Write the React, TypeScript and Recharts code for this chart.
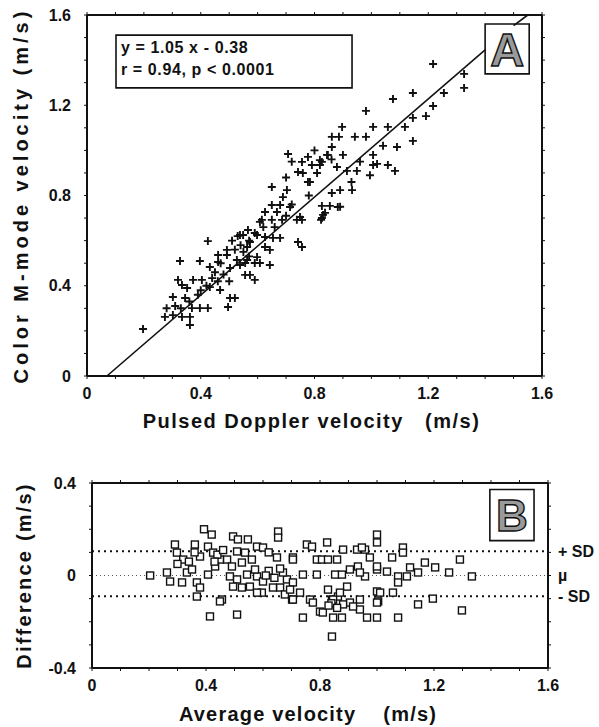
import React from 'react';
import {
  ScatterChart, Scatter, XAxis, YAxis, ReferenceLine, ReferenceArea, Label,
} from 'recharts';

// Panel A: pulsed Doppler (x) vs colour M-mode (y), m/s
const aX = [
  1.217, 1.326, 1.326, 1.255, 1.146, 1.076, 1.217, 0.981, 1.192, 1.146, 1.118, 1.006, 1.058, 0.897, 0.861, 0.886,
  0.942, 0.981, 1.146, 1.041, 1.09, 0.861, 0.844, 1.006, 1.058, 1.083, 1.006, 0.995, 0.949, 0.914, 0.879, 0.819,
  0.777, 0.791, 0.784, 0.861, 0.89, 0.932, 0.759, 0.819, 0.809, 0.826, 0.854, 0.89, 0.83, 0.823, 0.756, 0.756,
  0.707, 0.847, 0.756, 0.826, 0.742, 0.777, 0.65, 0.703, 0.689, 0.882, 0.65, 0.679, 0.714, 0.626, 0.668, 0.837,
  0.749, 0.826, 0.615, 0.65, 0.686, 0.738, 0.566, 0.59, 0.549, 0.626, 0.654, 0.679, 0.742, 0.563, 0.626, 0.643,
  0.563, 0.608, 0.643, 0.538, 0.425, 0.327, 0.397, 0.461, 0.461, 0.538, 0.492, 0.492, 0.32, 0.373, 0.404, 0.432,
  0.44, 0.352, 0.334, 0.302, 0.345, 0.369, 0.397, 0.425, 0.274, 0.302, 0.334, 0.362, 0.362, 0.197, 0.468, 0.503,
  0.496, 0.52, 0.556, 0.573, 0.59, 0.556, 0.59, 0.598, 0.598, 0.608, 0.573, 0.503, 0.527, 0.432, 0.48, 0.5,
  0.47, 0.52, 0.54, 0.51, 0.45, 0.42, 0.39, 0.36, 0.31, 0.28, 0.33, 0.4, 0.46, 0.55, 0.57, 0.62,
  0.66, 0.7, 0.72, 0.7, 0.72, 0.8, 0.86, 0.9, 0.96, 0.93, 1.02, 0.78, 0.57, 0.53,
];
const aY = [
  1.383, 1.339, 1.277, 1.254, 1.254, 1.228, 1.197, 1.175, 1.152, 1.144, 1.104, 1.104, 1.104, 1.104, 1.06, 1.06,
  1.06, 1.06, 1.042, 1.02, 1.015, 1.015, 0.98, 0.98, 0.935, 0.909, 0.935, 0.89, 0.909, 0.909, 0.926, 0.957,
  0.971, 0.935, 0.86, 0.811, 0.824, 0.824, 0.9, 0.935, 0.9, 0.754, 0.754, 0.75, 0.714, 0.692, 0.692, 0.572,
  0.984, 0.98, 0.949, 0.949, 0.904, 0.86, 0.838, 0.824, 0.793, 0.749, 0.758, 0.758, 0.749, 0.727, 0.727, 0.723,
  0.705, 0.7, 0.692, 0.692, 0.692, 0.692, 0.647, 0.634, 0.625, 0.616, 0.612, 0.612, 0.594, 0.572, 0.572, 0.559,
  0.514, 0.501, 0.492, 0.492, 0.598, 0.51, 0.51, 0.536, 0.505, 0.625, 0.559, 0.536, 0.426, 0.426, 0.426, 0.483,
  0.434, 0.39, 0.403, 0.35, 0.346, 0.301, 0.301, 0.301, 0.262, 0.27, 0.262, 0.262, 0.226, 0.208, 0.381, 0.346,
  0.306, 0.346, 0.448, 0.448, 0.426, 0.501, 0.501, 0.527, 0.625, 0.683, 0.594, 0.479, 0.514, 0.394, 0.45, 0.42,
  0.5, 0.56, 0.58, 0.6, 0.46, 0.4, 0.36, 0.33, 0.31, 0.3, 0.3, 0.38, 0.42, 0.55, 0.53, 0.66,
  0.66, 0.71, 0.76, 0.88, 0.95, 1.0, 0.96, 0.98, 0.95, 0.86, 0.94, 0.8, 0.6, 0.62,
];

// Panel B: average velocity (x) vs difference (y), m/s
const bX = [
  0.204, 0.263, 0.274, 0.291, 0.298, 0.32, 0.316, 0.333, 0.351, 0.368, 0.361, 0.379, 0.407, 0.425, 0.449, 0.432,
  0.407, 0.379, 0.368, 0.456, 0.393, 0.42, 0.495, 0.512, 0.547, 0.509, 0.537, 0.474, 0.491, 0.526, 0.561, 0.484,
  0.509, 0.544, 0.495, 0.526, 0.554, 0.579, 0.579, 0.414, 0.509, 0.449, 0.653, 0.653, 0.6, 0.649, 0.705, 0.596,
  0.66, 0.677, 0.702, 0.684, 0.705, 0.754, 0.772, 0.825, 0.705, 0.789, 0.807, 0.828, 0.86, 0.881, 0.93, 0.958,
  1.0, 0.74, 0.789, 0.853, 0.877, 0.905, 0.933, 0.895, 0.958, 1.0, 0.67, 0.6, 0.572, 0.579, 0.635, 0.695,
  0.705, 0.765, 0.828, 0.842, 0.863, 0.905, 0.94, 1.004, 1.0, 1.0, 0.947, 1.091, 1.091, 1.053, 0.975, 1.291,
  1.168, 1.204, 1.253, 1.333, 1.144, 1.116, 1.105, 1.074, 1.074, 1.035, 1.0, 0.94, 1.011, 1.056, 1.0, 1.144,
  1.196, 1.298, 1.074, 0.965, 1.0, 0.94, 0.846, 0.877, 0.842, 0.74, 0.8, 0.846, 0.775, 0.73, 0.87, 0.881,
  0.916, 0.81, 0.44, 0.46, 0.43, 0.62, 0.64, 0.66, 0.61, 0.84, 0.86, 0.83, 0.62, 0.36, 0.34, 0.3,
];
const bY = [
  0, 0.013, -0.026, 0.134, 0.099, 0.069, -0.03, 0.013, 0.026, -0.03, 0.134, 0.082, 0.125, 0.099, 0.069, 0.039,
  0.004, -0.052, -0.091, -0.104, 0.2, 0.177, 0.169, 0.156, 0.156, 0.104, 0.099, 0.069, 0.039, 0.056, 0.069, -0.004,
  -0.017, 0.004, -0.048, -0.052, -0.048, -0.004, 0.125, -0.177, -0.169, -0.112, 0.19, 0.164, 0.121, 0.078, 0.078, -0.074,
  -0.052, -0.082, -0.104, -0.017, -0.03, 0.134, 0.125, 0.143, 0.069, 0.069, 0.069, 0.069, 0.069, 0.112, 0.112, 0.112,
  0.177, 0.004, 0.004, 0.004, 0.004, 0.026, 0.039, -0.048, -0.004, 0.026, 0.013, -0.026, 0.026, -0.074, -0.052, -0.061,
  -0.104, -0.104, -0.061, -0.104, -0.091, -0.117, -0.104, -0.112, -0.069, 0.143, 0.121, 0.121, 0.099, 0.078, 0.078, 0.069,
  0.056, 0.035, 0.013, -0.004, 0.013, 0.035, -0.004, -0.004, -0.03, 0.017, 0.039, 0.013, -0.074, -0.074, -0.117, -0.125,
  -0.1, -0.151, -0.182, -0.182, -0.182, -0.147, -0.182, -0.182, -0.264, -0.182, -0.156, -0.104, -0.117, -0.074, -0.074, -0.125,
  -0.134, -0.16, 0.09, 0.11, 0.06, 0.02, -0.01, 0.03, 0.0, -0.12, -0.14, -0.13, 0.1, 0.1, 0.06, 0.05,
];

// regression line ends (split around the "A" box), and the mean / ±SD levels
const fitX = [0.07, 1.4, 1.5, 1.55];
const fitY = [0, 1.445, 1.553, 1.6];
const sdPlus = 0.105;
const mean = 0;
const sdMinus = -0.09;

const xTicks = [0, 0.1, 0.2, 0.3, 0.4, 0.5, 0.6, 0.7, 0.8, 0.9, 1, 1.1, 1.2, 1.3, 1.4, 1.5, 1.6];
const bYTicks = [-0.4, -0.3, -0.2, -0.1, 0, 0.1, 0.2, 0.3, 0.4];

const aData = aX.map((x, i) => ({ x, y: aY[i] }));
const bData = bX.map((x, i) => ({ x, y: bY[i] }));

const FONT = '"Liberation Sans", Arial, sans-serif';
const ink = '#111';

const major = (v: number) => {
  const n = Math.round(v * 10);
  if (n % 4 !== 0) return '';
  return n === 0 ? '0' : v.toFixed(1);
};
const blank = () => '';

const tickStyle = { fill: ink, fontSize: 16, fontWeight: 700, fontFamily: FONT };

const Plus = (p: any) => {
  const { cx, cy } = p;
  if (cx == null || cy == null) return <g />;
  return <path d={`M${cx - 4},${cy}h8M${cx},${cy - 4}v8`} stroke={ink} strokeWidth={1.9} fill="none" />;
};

const Square = (p: any) => {
  const { cx, cy } = p;
  if (cx == null || cy == null) return <g />;
  return <rect x={cx - 3.5} y={cy - 3.5} width={7} height={7} fill="#fff" stroke={ink} strokeWidth={1.4} />;
};

const Hidden = () => <g />;

const letter = (ch: string, size: number) => (props: any) => {
  const vb = props.viewBox || {};
  return (
    <text
      x={vb.x + vb.width / 2}
      y={vb.y + vb.height / 2 + size * 0.36}
      textAnchor="middle"
      fontSize={size}
      fontWeight={700}
      fontFamily={FONT}
      fill="#9a9a9a"
      stroke={ink}
      strokeWidth={1.4}
    >
      {ch}
    </text>
  );
};

const equation = (props: any) => {
  const vb = props.viewBox || {};
  const st = { fill: ink, fontSize: 16, fontWeight: 700, fontFamily: FONT, letterSpacing: 0.6 };
  return (
    <g>
      <text x={vb.x + 5} y={vb.y + 18} {...st}>y = 1.05 x - 0.38</text>
      <text x={vb.x + 5} y={vb.y + 40} {...st}>r = 0.94, p &lt; 0.0001</text>
    </g>
  );
};

// axis titles drawn from the axis viewBox
const xTitle = (text: string, dx: number, fromBottom: number, spacing: number) => (props: any) => {
  const vb = props.viewBox || {};
  return (
    <text
      x={vb.x + vb.width / 2 + dx} y={vb.y + vb.height - fromBottom} textAnchor="middle"
      fill={ink} fontSize={20} fontWeight={700} fontFamily={FONT} letterSpacing={spacing}
      style={{ whiteSpace: 'pre' }}
    >
      {text}
    </text>
  );
};

const yTitle = (text: string, cx: number, spacing: number) => (props: any) => {
  const vb = props.viewBox || {};
  const cy = vb.y + vb.height / 2;
  return (
    <text
      x={cx} y={cy} textAnchor="middle" dominantBaseline="central" transform={`rotate(-90 ${cx} ${cy})`}
      fill={ink} fontSize={20} fontWeight={700} fontFamily={FONT} letterSpacing={spacing}
      style={{ whiteSpace: 'pre' }}
    >
      {text}
    </text>
  );
};

const axisLine = { stroke: ink, strokeWidth: 2 };
const tickLine = { stroke: ink, strokeWidth: 1 };

function PanelA() {
  return (
    <ScatterChart width={599} height={440} margin={{ top: 14, right: 56, bottom: 0, left: 0 }}>
      <XAxis
        xAxisId="b" type="number" dataKey="x" domain={[0, 1.6]} ticks={xTicks} interval={0}
        tickFormatter={major} tick={tickStyle} tickSize={3} tickMargin={9} height={64}
        axisLine={axisLine} tickLine={tickLine}
      >
        <Label content={xTitle('Pulsed Doppler velocity   (m/s)', -3, 12, 1.5)} />
      </XAxis>
      <XAxis
        xAxisId="t" orientation="top" type="number" dataKey="x" domain={[0, 1.6]} ticks={xTicks} interval={0}
        tickFormatter={blank} tickSize={3} height={1} axisLine={axisLine} tickLine={tickLine}
      />
      <YAxis
        yAxisId="l" type="number" dataKey="y" domain={[0, 1.6]} ticks={xTicks} interval={0}
        tickFormatter={major} tick={tickStyle} tickSize={3} tickMargin={13} width={87}
        axisLine={axisLine} tickLine={tickLine}
      >
        <Label content={yTitle('Color M-mode velocity (m/s)', 21, 4)} />
      </YAxis>
      <YAxis
        yAxisId="r" orientation="right" type="number" dataKey="y" domain={[0, 1.6]} ticks={xTicks} interval={0}
        tickFormatter={blank} tickSize={3} width={1} axisLine={axisLine} tickLine={tickLine}
      />
      <ReferenceLine
        xAxisId="b" yAxisId="l" stroke={ink} strokeWidth={1.6}
        segment={[{ x: fitX[0], y: fitY[0] }, { x: fitX[1], y: fitY[1] }]}
      />
      <ReferenceLine
        xAxisId="b" yAxisId="l" stroke={ink} strokeWidth={1.6}
        segment={[{ x: fitX[2], y: fitY[2] }, { x: fitX[3], y: fitY[3] }]}
      />
      <ReferenceArea
        xAxisId="b" yAxisId="l" x1={0.102} x2={0.932} y1={1.277} y2={1.511}
        fill="#fff" fillOpacity={1} stroke={ink} strokeWidth={1.6}
      >
        <Label content={equation} />
      </ReferenceArea>
      <ReferenceArea
        xAxisId="b" yAxisId="l" x1={1.4} x2={1.555} y1={1.339} y2={1.56}
        fill="#fff" fillOpacity={1} stroke={ink} strokeWidth={1.6}
      >
        <Label content={letter('A', 47)} />
      </ReferenceArea>
      <Scatter xAxisId="t" yAxisId="r" data={aData} shape={Hidden} isAnimationActive={false} />
      <Scatter xAxisId="b" yAxisId="l" data={aData} shape={Plus} isAnimationActive={false} />
    </ScatterChart>
  );
}

function PanelB() {
  const sdLabel = (text: string) => ({
    value: text, position: 'right' as const, offset: 10,
    style: { fill: ink, fontSize: 16, fontWeight: 700, fontFamily: FONT },
  });
  return (
    <ScatterChart width={599} height={287} margin={{ top: 42, right: 50, bottom: 0, left: 0 }}>
      <XAxis
        xAxisId="b" type="number" dataKey="x" domain={[0, 1.6]} ticks={xTicks} interval={0}
        tickFormatter={major} tick={tickStyle} tickSize={3} tickMargin={9} height={59}
        axisLine={axisLine} tickLine={tickLine}
      >
        <Label content={xTitle('Average velocity    (m/s)', -12, 6, 1.2)} />
      </XAxis>
      <XAxis
        xAxisId="t" orientation="top" type="number" dataKey="x" domain={[0, 1.6]} ticks={xTicks} interval={0}
        tickFormatter={blank} tickSize={3} height={1} axisLine={axisLine} tickLine={tickLine}
      />
      <YAxis
        yAxisId="l" type="number" dataKey="y" domain={[-0.4, 0.4]} ticks={bYTicks} interval={0}
        tickFormatter={major} tick={tickStyle} tickSize={3} tickMargin={13} width={92}
        axisLine={axisLine} tickLine={tickLine}
      >
        <Label content={yTitle('Difference (m/s)', 24, 2.2)} />
      </YAxis>
      <YAxis
        yAxisId="r" orientation="right" type="number" dataKey="y" domain={[-0.4, 0.4]} ticks={bYTicks} interval={0}
        tickFormatter={blank} tickSize={3} width={1} axisLine={axisLine} tickLine={tickLine}
      />
      <ReferenceLine xAxisId="b" yAxisId="l" y={mean} stroke="#555" strokeWidth={1} strokeDasharray="1 3" label={sdLabel('\u00b5')} />
      <ReferenceLine xAxisId="b" yAxisId="l" y={sdPlus} stroke={ink} strokeWidth={2} strokeDasharray="2 4" label={sdLabel('+ SD')} />
      <ReferenceLine xAxisId="b" yAxisId="l" y={sdMinus} stroke={ink} strokeWidth={2} strokeDasharray="2 4" label={sdLabel('- SD')} />
      <ReferenceArea
        xAxisId="b" yAxisId="l" x1={1.396} x2={1.551} y1={0.151} y2={0.372}
        fill="#fff" fillOpacity={1} stroke={ink} strokeWidth={1.6}
      >
        <Label content={letter('B', 44)} />
      </ReferenceArea>
      <Scatter xAxisId="t" yAxisId="r" data={bData} shape={Hidden} isAnimationActive={false} />
      <Scatter xAxisId="b" yAxisId="l" data={bData} shape={Square} isAnimationActive={false} />
    </ScatterChart>
  );
}

export default function App() {
  return (
    <div style={{ position: 'absolute', left: 0, top: 0, width: 599, height: 727, background: '#fff' }}>
      <div style={{ position: 'absolute', left: 0, top: 0 }}>
        <PanelA />
      </div>
      <div style={{ position: 'absolute', left: 0, top: 440 }}>
        <PanelB />
      </div>
    </div>
  );
}
